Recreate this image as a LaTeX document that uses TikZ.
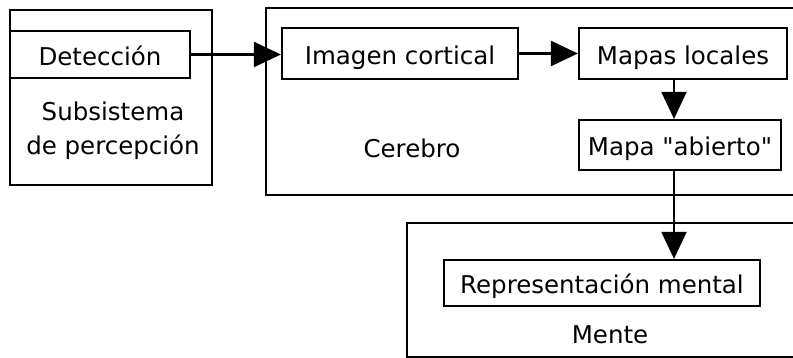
\documentclass[tikz,border=0pt]{standalone}
\usepackage{fontspec}
\setmainfont{DejaVu Sans}
\usetikzlibrary{arrows.meta}
\newcommand\straightdq{\XeTeXglyph\XeTeXcharglyph"22\relax}
\begin{document}
\begin{tikzpicture}[x=1pt,y=-1pt,
  box/.style={draw, line width=2.2pt, inner sep=0pt, font=\fontsize{24.5}{34}\selectfont, text height=21.9pt, text depth=0pt},
  lbl/.style={inner sep=0pt, align=center, font=\fontsize{24.5}{34}\selectfont},
  arr/.style={line width=2.2pt, -{Triangle[length=27pt,width=25pt]}}]
\useasboundingbox (0,0) rectangle (793,358);
% outer boxes
\node[box, minimum width=202pt, minimum height=175pt] (persp) at (111,97.5) {};
\node[box, minimum width=544pt, minimum height=187pt] (cer) at (538,101.5) {};
\node[box, minimum width=403pt, minimum height=134pt] (mente) at (608.5,290) {};
% inner boxes
\node[box, minimum width=180pt, minimum height=47pt] (det) at (100,54.5) {Detección};
\node[box, minimum width=236pt, minimum height=51pt] (img) at (400,53.5) {Imagen cortical};
\node[box, minimum width=208pt, minimum height=51pt] (loc) at (683,53.5) {Mapas locales};
\node[box, minimum width=202pt, minimum height=50pt] (abi) at (680,145) {Mapa \straightdq abierto\straightdq};
\node[box, minimum width=316pt, minimum height=46pt] (rep) at (602,283) {Representación mental};
% labels
\node[lbl] (subs) at (113,131) {Subsistema\\de percepción};
\node[lbl] (cerl) at (412,148) {Cerebro};
\node[lbl] (mentel) at (610,335) {Mente};
% connectors
\coordinate (col) at (674,0);
\draw[arr] (det.east) -- (det.east -| img.west);
\draw[arr] (img.east) -- (loc.west);
\draw[arr] (loc.south -| col) -- (abi.north -| col);
\draw[arr] (abi.south -| col) -- (rep.north -| col);
\end{tikzpicture}
\end{document}
